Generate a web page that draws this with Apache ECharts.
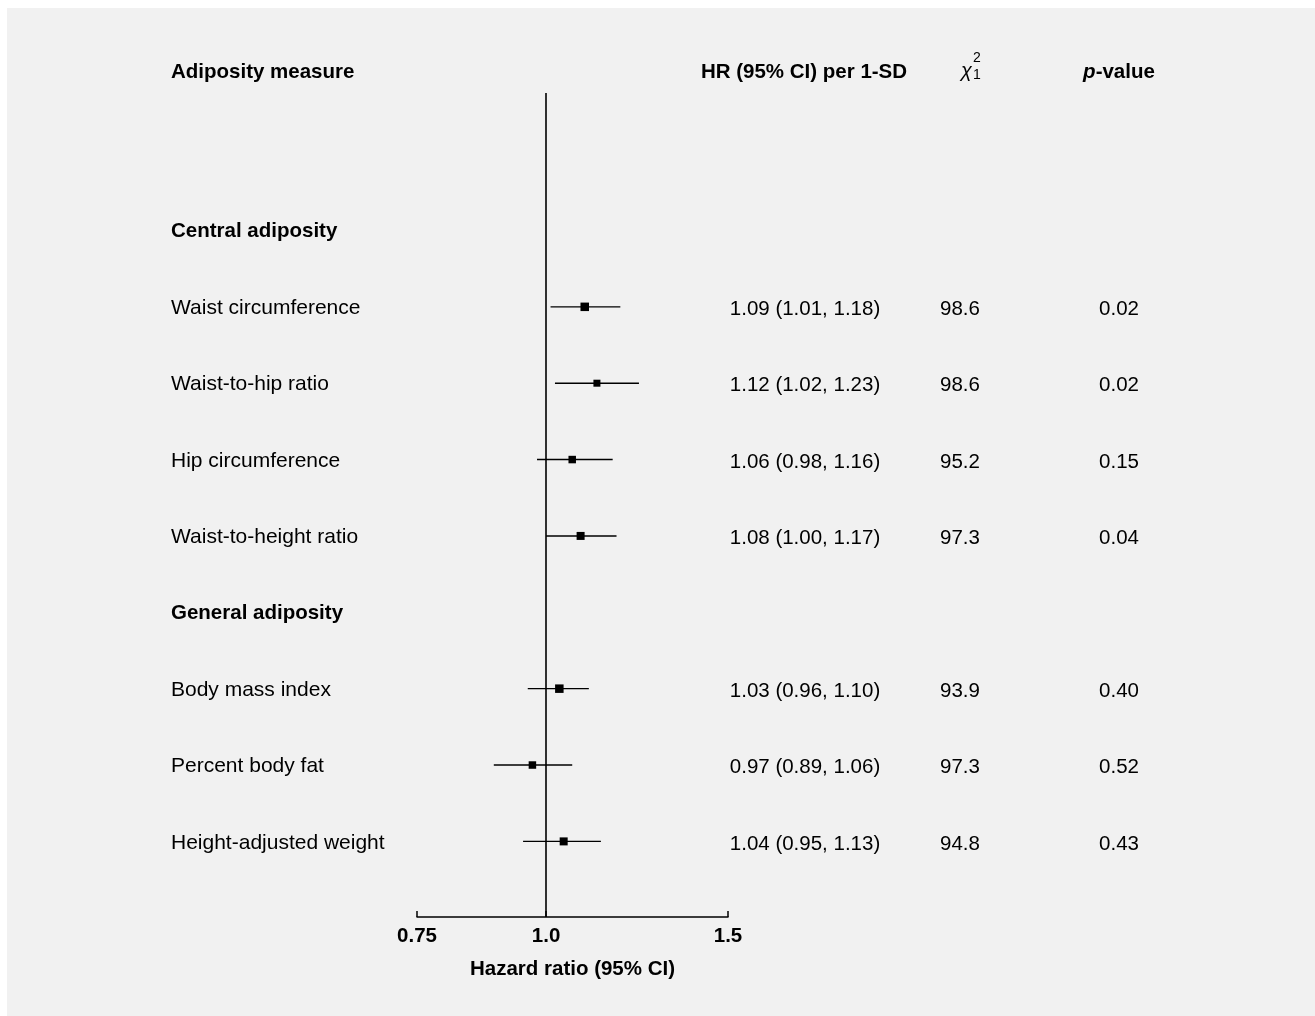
<!DOCTYPE html>
<html>
<head>
<meta charset="utf-8">
<script src="https://cdn.jsdelivr.net/npm/echarts@6/dist/echarts.min.js"></script>
<style>
  html, body { margin: 0; padding: 0; background: #ffffff; width: 1315px; height: 1016px; overflow: hidden; }
  #chart { position: absolute; left: 7px; top: 8px; width: 1308px; height: 1008px; }
</style>
</head>
<body>
<div id="chart"></div>
<script>
// ---------------- data ----------------
const measures = ['Waist circumference', 'Waist-to-hip ratio', 'Hip circumference', 'Waist-to-height ratio',
                  'Body mass index', 'Percent body fat', 'Height-adjusted weight'];
const measureRows = [7, 6, 5, 4, 2, 1, 0];
const groups = ['Central adiposity', 'General adiposity'];
const groupRows = [8, 3];
const hr    = [1.09, 1.12, 1.06, 1.08, 1.03, 0.97, 1.04];
const lower = [1.01, 1.02, 0.98, 1.00, 0.96, 0.89, 0.95];
const upper = [1.18, 1.23, 1.16, 1.17, 1.10, 1.06, 1.13];
const chi2  = ['98.6', '98.6', '95.2', '97.3', '93.9', '97.3', '94.8'];
const pValues = ['0.02', '0.02', '0.15', '0.04', '0.40', '0.52', '0.43'];
const boxSizes = [8.5, 7, 7.5, 8, 8.5, 7.5, 8];
const xTickValues = [0.75, 1.0, 1.5];
const xTickLabels = ['0.75', '1.0', '1.5'];

// ---------------- layout helpers ----------------
const OX = 7, OY = 8;            // offset of chart panel inside page
const FONT = "'Liberation Sans', Arial, Helvetica, sans-serif";
const FS = 20.5;
const COL_LABEL = 171 - OX, COL_HR = 805 - OX, COL_CHI = 960 - OX, COL_P = 1119 - OX;
const HEAD_Y = 72 - OY;

const fmtHR = i => hr[i].toFixed(2) + ' (' + lower[i].toFixed(2) + ', ' + upper[i].toFixed(2) + ')';

const forestData = hr.map((v, i) => [Math.log(v), measureRows[i], Math.log(lower[i]), Math.log(upper[i]), boxSizes[i]]);
const textData = measures.map((m, i) => [0, measureRows[i], i, 0]).concat(groups.map((g, i) => [0, groupRows[i], i, 1]));

const chart = echarts.init(document.getElementById('chart'));
chart.setOption({
  backgroundColor: '#f1f1f1',
  animation: false,
  grid: { left: 417 - OX, right: 1315 - 728, top: 93 - OY, bottom: 1016 - 917 },
  xAxis: {
    type: 'value',
    min: Math.log(0.75),
    max: Math.log(1.5),
    splitLine: { show: false },
    axisLine: { show: true, onZero: false, lineStyle: { color: '#000', width: 1.5 } },
    axisTick: { show: true, inside: true, length: 6, lineStyle: { color: '#000', width: 1.5 },
                customValues: xTickValues.map(v => Math.log(v)) },
    axisLabel: {
      show: true, color: '#000', fontWeight: 'bold', fontSize: FS, fontFamily: FONT, margin: 9,
      customValues: xTickValues.map(v => Math.log(v)),
      formatter: function (val) {
        let best = 0;
        xTickValues.forEach((t, i) => { if (Math.abs(Math.log(t) - val) < Math.abs(Math.log(xTickValues[best]) - val)) best = i; });
        return xTickLabels[best];
      }
    },
    name: 'Hazard ratio (95% CI)',
    nameLocation: 'middle',
    nameGap: 42,
    nameTextStyle: { color: '#000', fontWeight: 'bold', fontSize: FS, fontFamily: FONT }
  },
  yAxis: {
    type: 'value', min: -0.99, max: 9.8,
    show: false
  },
  graphic: [
    { type: 'text', x: 171 - OX, y: HEAD_Y,
      style: { text: 'Adiposity measure', fill: '#000', font: 'bold ' + FS + 'px ' + FONT, align: 'left', verticalAlign: 'middle' } },
    { type: 'text', x: 804 - OX, y: HEAD_Y,
      style: { text: 'HR (95% CI) per 1-SD', fill: '#000', font: 'bold ' + FS + 'px ' + FONT, align: 'center', verticalAlign: 'middle' } },
    { type: 'text', x: 961 - OX, y: 71 - OY,
      style: { text: 'χ', fill: '#000', font: 'italic 20px ' + FONT, align: 'left', verticalAlign: 'middle' } },
    { type: 'text', x: 973 - OX, y: 58 - OY,
      style: { text: '2', fill: '#000', font: '14px ' + FONT, align: 'left', verticalAlign: 'middle' } },
    { type: 'text', x: 973 - OX, y: 75 - OY,
      style: { text: '1', fill: '#000', font: '14px ' + FONT, align: 'left', verticalAlign: 'middle' } },
    { type: 'text', x: 1119 - OX, y: HEAD_Y,
      style: { text: '{i|p}{b|-value}', align: 'center', verticalAlign: 'middle',
        rich: {
          i: { fontStyle: 'italic', fontWeight: 'bold', fontSize: FS, fontFamily: FONT, fill: '#000', color: '#000' },
          b: { fontWeight: 'bold', fontSize: FS, fontFamily: FONT, fill: '#000', color: '#000' }
        } } }
  ],
  series: [
    {
      type: 'custom',
      name: 'forest',
      data: forestData,
      encode: { x: [0, 2, 3], y: 1 },
      markLine: {
        silent: true, symbol: 'none', label: { show: false },
        lineStyle: { color: '#000', width: 1.6, type: 'solid' },
        data: [{ xAxis: 0 }]
      },
      renderItem: function (params, api) {
        const y = api.value(1);
        const pLo = api.coord([api.value(2), y]);
        const pHi = api.coord([api.value(3), y]);
        const pC = api.coord([api.value(0), y]);
        const s = api.value(4);
        return {
          type: 'group',
          children: [
            { type: 'line', shape: { x1: pLo[0], y1: pLo[1], x2: pHi[0], y2: pHi[1] },
              style: { stroke: '#000', lineWidth: 1.4 } },
            { type: 'rect', shape: { x: pC[0] - s / 2, y: pC[1] - s / 2, width: s, height: s },
              style: { fill: '#000' } }
          ]
        };
      }
    },
    {
      type: 'custom',
      name: 'texts',
      data: textData,
      encode: { y: 1 },
      renderItem: function (params, api) {
        const row = api.value(1);
        const i = api.value(2);
        const isGroup = api.value(3) === 1;
        const y = api.coord([0, row])[1] + 1;
        if (isGroup) {
          return { type: 'text', x: COL_LABEL, y: y,
            style: { text: groups[i], fill: '#000', font: 'bold ' + FS + 'px ' + FONT, verticalAlign: 'middle', align: 'left' } };
        }
        return {
          type: 'group',
          children: [
            { type: 'text', x: COL_LABEL, y: y + 0.5, style: { text: measures[i], fill: '#000', font: '21px ' + FONT, verticalAlign: 'middle', align: 'left' } },
            { type: 'text', x: COL_HR, y: y + 1.5, style: { text: fmtHR(i), fill: '#000', font: FS + 'px ' + FONT, verticalAlign: 'middle', align: 'center' } },
            { type: 'text', x: COL_CHI, y: y + 1.5, style: { text: chi2[i], fill: '#000', font: FS + 'px ' + FONT, verticalAlign: 'middle', align: 'center' } },
            { type: 'text', x: COL_P, y: y + 1.5, style: { text: pValues[i], fill: '#000', font: FS + 'px ' + FONT, verticalAlign: 'middle', align: 'center' } }
          ]
        };
      }
    }
  ]
});
</script>
</body>
</html>
